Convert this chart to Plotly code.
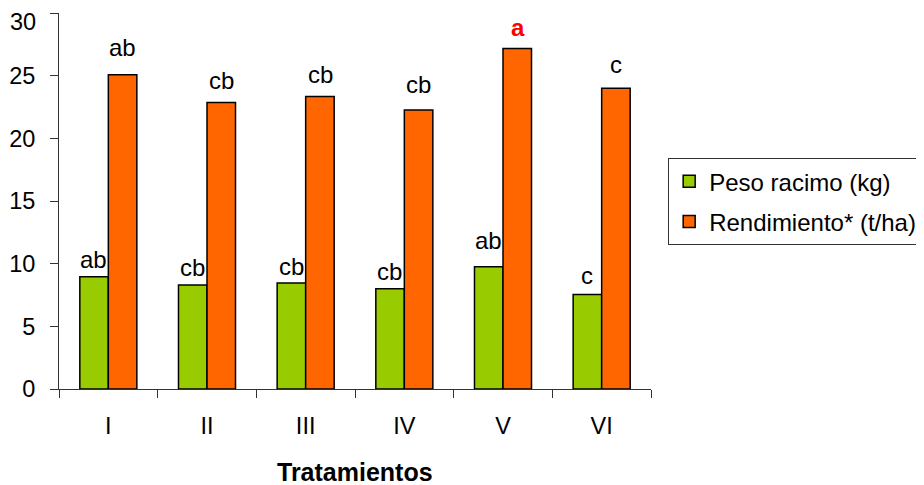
import plotly.graph_objects as go

categories = ["I", "II", "III", "IV", "V", "VI"]
peso = [8.96, 8.3, 8.46, 8.0, 9.76, 7.53]
rend = [25.08, 22.85, 23.33, 22.27, 27.16, 24.0]
peso_letters = ["ab", "cb", "cb", "cb", "ab", "c"]
rend_letters = ["ab", "cb", "cb", "cb", "a", "c"]
y_ticks = [0, 5, 10, 15, 20, 25, 30]

FONT = "Liberation Sans, Arial, sans-serif"
FS = 24

# pixel offsets of the significance letters above bar tops (layout only)
peso_shift = [17, 17.5, 16.5, 17, 26.5, 19.5]
rend_shift = [27, 22.5, 22, 25, 21.5, 23.5]
rend_color = {"a": "red"}

fig = go.Figure()
fig.add_trace(go.Bar(name="Peso racimo (kg)", x=categories, y=peso, legendgroup="g1",
                     marker=dict(color="#99CC00", line=dict(color="black", width=1.5))))
fig.add_trace(go.Bar(name="Rendimiento* (t/ha)", x=categories, y=rend, legendgroup="g2",
                     marker=dict(color="#FF6600", line=dict(color="black", width=1.5))))

annotations = []
for c, v, t, s in zip(categories, peso, peso_letters, peso_shift):
    annotations.append(dict(x=c, y=v, text=t, showarrow=False, xshift=-14.5, yshift=s,
                            yanchor="middle", font=dict(size=FS, color="black", family=FONT)))
for c, v, t, s in zip(categories, rend, rend_letters, rend_shift):
    col = rend_color.get(t, "black")
    annotations.append(dict(x=c, y=v, text=f"<b>{t}</b>" if col == "red" else t,
                            showarrow=False, xshift=14.5, yshift=s, yanchor="middle",
                            font=dict(size=FS, color=col, family=FONT)))
annotations.append(dict(x=0.5, y=-0.2207, xref="paper", yref="paper", text="<b>Tratamientos</b>",
                        showarrow=False, yanchor="middle", xanchor="center",
                        font=dict(size=25, color="black", family=FONT)))
# top tick label, nudged below its tick so it stays inside the page
annotations.append(dict(x=0, y=y_ticks[-1], xref="paper", yref="y", text=str(y_ticks[-1]),
                        showarrow=False, xanchor="right", yanchor="middle",
                        xshift=-21, yshift=-9,
                        font=dict(size=23.5, color="black", family=FONT)))

fig.update_layout(
    width=924, height=485,
    margin=dict(l=51, r=281, t=5, b=104),
    paper_bgcolor="white", plot_bgcolor="white",
    font=dict(family=FONT, size=FS, color="black"),
    barmode="group", bargap=0.422, bargroupgap=0,
    showlegend=True,
    legend=dict(x=1.029, y=0.614, xanchor="left", yanchor="top",
                bordercolor="#333", borderwidth=1, bgcolor="white",
                font=dict(size=FS, family=FONT), tracegroupgap=6,
                traceorder="grouped"),
    annotations=annotations,
    xaxis=dict(showline=True, linecolor="#333", linewidth=1, ticks="outside",
               tickson="boundaries", ticklen=8, tickcolor="#333",
               tickfont=dict(size=23.5), ticklabelstandoff=16, showgrid=False,
               automargin=False),
    yaxis=dict(range=[0, 30], tickmode="array", tickvals=y_ticks,
               ticktext=[str(v) for v in y_ticks[:-1]] + [""],
               showline=True, linecolor="#333", linewidth=1,
               ticks="outside", ticklen=8, tickcolor="#333", showgrid=False,
               tickfont=dict(size=23.5), zeroline=False, ticklabelstandoff=10,
               automargin=False),
)

fig.write_html("out.html")
